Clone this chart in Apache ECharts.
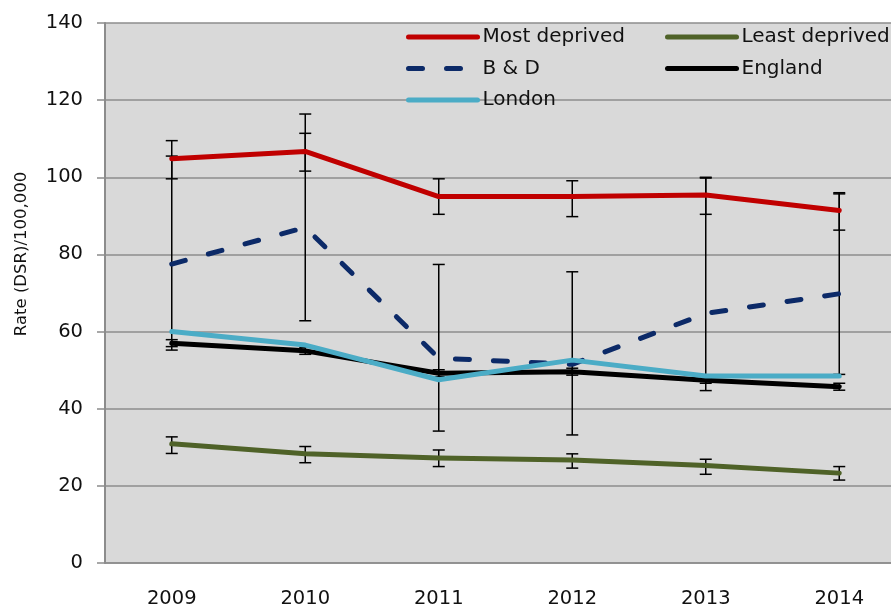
<!DOCTYPE html>
<html>
<head>
<meta charset="utf-8">
<script src="https://cdn.jsdelivr.net/npm/echarts@6/dist/echarts.min.js"></script>
<style>
  html, body { margin: 0; padding: 0; background: #ffffff; }
  #chart { width: 891px; height: 606px; }
</style>
</head>
<body>
<div id="chart"></div>
<script>
// Directly standardised rates per 100,000, 2009-2014
const years = ['2009', '2010', '2011', '2012', '2013', '2014'];
const yTicks = [0, 20, 40, 60, 80, 100, 120, 140];

const mostDeprived     = [104.8, 106.7, 95.0, 95.0, 95.4, 91.4];
const mostDeprivedLow  = [99.6, 101.6, 90.4, 89.8, 90.4, 86.3];
const mostDeprivedHigh = [109.5, 111.4, 99.6, 99.1, 99.8, 95.7];

const leastDeprived     = [30.9, 28.3, 27.2, 26.7, 25.3, 23.3];
const leastDeprivedLow  = [28.4, 26.0, 25.0, 24.6, 23.0, 21.5];
const leastDeprivedHigh = [32.7, 30.2, 29.3, 28.3, 26.9, 25.0];

const bAndD     = [77.5, 87.0, 53.1, 51.5, 64.7, 69.8];
const bAndDLow  = [55.2, 62.8, 34.2, 33.2, 44.7, 48.9];
const bAndDHigh = [105.5, 116.4, 77.4, 75.5, 100.0, 96.0];

const england     = [57.0, 55.0, 49.2, 49.6, 47.4, 45.7];
const englandLow  = [56.1, 54.1, 48.3, 48.7, 46.6, 44.8];
const englandHigh = [57.9, 55.9, 50.1, 50.5, 48.2, 46.6];

const london = [60.0, 56.5, 47.5, 52.6, 48.5, 48.5];

const FONT = 'DejaVu Sans';
const LINE_W = 5;

function ciRows(low, high) {
  return low.map((v, i) => [i, v, high[i]]);
}

// Vertical whisker with a short cap at each end
function renderErrorBar(params, api) {
  const x = api.value(0);
  const lo = api.coord([x, api.value(1)]);
  const hi = api.coord([x, api.value(2)]);
  const w = 6;
  const style = { stroke: '#000000', lineWidth: 1.5, fill: null };
  return {
    type: 'group',
    children: [
      { type: 'line', shape: { x1: lo[0], y1: lo[1], x2: hi[0], y2: hi[1] }, style: style },
      { type: 'line', shape: { x1: lo[0] - w, y1: lo[1], x2: lo[0] + w, y2: lo[1] }, style: style },
      { type: 'line', shape: { x1: hi[0] - w, y1: hi[1], x2: hi[0] + w, y2: hi[1] }, style: style }
    ]
  };
}

function errorSeries(low, high) {
  return {
    type: 'custom',
    renderItem: renderErrorBar,
    data: ciRows(low, high),
    encode: { x: 0, y: [1, 2] },
    z: 1,
    silent: true
  };
}

function lineSeries(name, data, color, type, z) {
  return {
    name: name,
    type: 'line',
    data: data,
    symbol: 'none',
    z: z,
    lineStyle: { color: color, width: LINE_W, type: type, cap: 'round', join: 'round' },
    itemStyle: { color: color }
  };
}

const chart = echarts.init(document.getElementById('chart'), null, { renderer: 'canvas' });

const legendBase = {
  orient: 'vertical', top: 27, padding: 0,
  itemWidth: 69, itemHeight: 20, itemGap: 11.5,
  itemStyle: { opacity: 0 },
  lineStyle: { width: LINE_W, cap: 'round' },
  textStyle: { fontFamily: FONT, fontSize: 20, color: '#111111', lineHeight: 20 }
};

chart.setOption({
  animation: false,
  backgroundColor: '#ffffff',
  grid: {
    left: 105, top: 23, width: 801, height: 540,
    outerBoundsMode: 'none',
    containLabel: false,
    show: true, backgroundColor: '#d9d9d9', borderWidth: 0
  },
  legend: [
    Object.assign({}, legendBase, { data: ['Most deprived', 'B & D', 'London'], left: 406 }),
    Object.assign({}, legendBase, { data: ['Least deprived', 'England'], left: 665 })
  ],
  xAxis: {
    type: 'category',
    data: years,
    boundaryGap: true,
    axisLine: { show: true, lineStyle: { color: '#8c8c8c', width: 1.5 } },
    axisTick: { show: false },
    axisLabel: { fontFamily: FONT, fontSize: 19.5, color: '#111111', margin: 26 },
    splitLine: { show: false }
  },
  yAxis: {
    type: 'value',
    min: yTicks[0], max: yTicks[yTicks.length - 1], interval: 20,
    axisLine: { show: true, lineStyle: { color: '#8c8c8c', width: 2 } },
    axisTick: { show: true, inside: false, length: 8, lineStyle: { color: '#8c8c8c', width: 1.5 } },
    axisLabel: { fontFamily: FONT, fontSize: 19.5, color: '#111111', margin: 22 },
    splitLine: { show: true, lineStyle: { color: '#8c8c8c', width: 1.5 } }
  },
  graphic: [
    {
      type: 'text',
      x: 22, y: 254,
      rotation: Math.PI / 2,
      style: {
        text: 'Rate (DSR)/100,000',
        fontFamily: FONT, fontSize: 16.5, fill: '#111111',
        align: 'center', verticalAlign: 'middle'
      }
    }
  ],
  series: [
    errorSeries(mostDeprivedLow, mostDeprivedHigh),
    errorSeries(leastDeprivedLow, leastDeprivedHigh),
    errorSeries(bAndDLow, bAndDHigh),
    errorSeries(englandLow, englandHigh),
    lineSeries('Most deprived', mostDeprived, '#c00000', 'solid', 3),
    lineSeries('Least deprived', leastDeprived, '#4f6228', 'solid', 3),
    lineSeries('B & D', bAndD, '#0c2a68', [14, 24], 3),
    lineSeries('England', england, '#000000', 'solid', 3),
    lineSeries('London', london, '#4bacc6', 'solid', 4)
  ]
});
</script>
</body>
</html>
